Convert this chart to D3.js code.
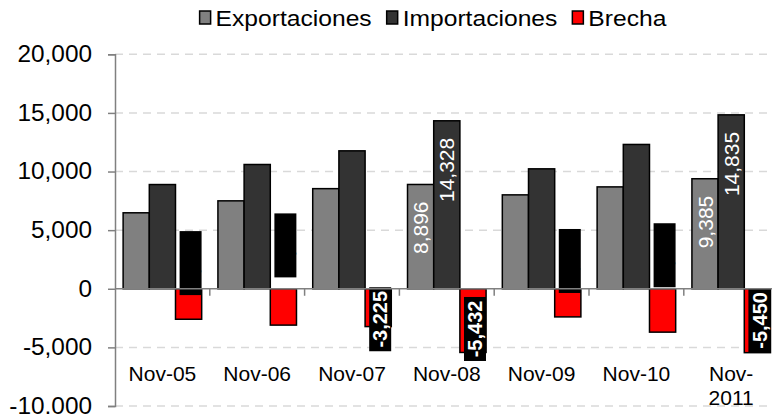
<!DOCTYPE html>
<html>
<head>
<meta charset="utf-8">
<script src="https://cdn.jsdelivr.net/npm/d3@7"></script>
<style>
  body { margin: 0; background: #fff; }
  svg { display: block; font-family: "Liberation Sans", Arial, sans-serif; }
</style>
</head>
<body>
<svg width="772" height="414"></svg>
<script>
// data
var categories = ["Nov-05", "Nov-06", "Nov-07", "Nov-08", "Nov-09", "Nov-10", "Nov-2011"];
var tickLabels = [["Nov-05"], ["Nov-06"], ["Nov-07"], ["Nov-08"], ["Nov-09"], ["Nov-10"], ["Nov-", "2011"]];
var series = ["Exportaciones", "Importaciones", "Brecha"];
var exportaciones = [6480, 7500, 8540, 8896, 8010, 8690, 9385];
var importaciones = [8890, 10600, 11765, 14328, 10230, 12310, 14835];
var brecha = [-2600, -3100, -3225, -5432, -2400, -3700, -5450];
// where each brecha label box sits (value units), and which labels are readable
var brechaLabelAt = [2190, 3700, -2600, -3430, 2370, 2860, -2700];
var brechaLabelShown = [false, false, true, true, false, false, true];
var valueLabelShown = [false, false, false, true, false, false, true];
var yTicks = [-10000, -5000, 0, 5000, 10000, 15000, 20000];

var colors = { Exportaciones: "#808080", Importaciones: "#333333", Brecha: "#ff0000" };

var svg = d3.select("svg");
var fmt = function(v) { return d3.format(",")(v).replace("\u2212", "-"); };

var y = d3.scaleLinear().domain([-10000, 20000]).range([406, 54.3]);
var x0 = d3.scaleBand().domain(categories).range([115, 778.6]);
var x1 = d3.scaleBand().domain(series).range([0, x0.bandwidth()]).paddingOuter(0.31);

// gridlines
svg.append("g")
    .selectAll("line")
    .data(yTicks.filter(function(d) { return d != 0; }))
    .enter().append("line")
    .attr("x1", 115).attr("x2", 772)
    .attr("y1", function(d) { return y(d); })
    .attr("y2", function(d) { return y(d); })
    .attr("stroke", "#d9d9d9")
    .attr("stroke-width", 1.5)
    .attr("stroke-dasharray", "8,6");

// y axis
var stretch = 1.06;
var yAxis = svg.append("g")
    .attr("transform", "translate(115,0)")
    .call(d3.axisLeft(y).tickValues(yTicks).tickSize(7).tickSizeOuter(7).tickFormat(fmt));
yAxis.select(".domain").attr("stroke", "#808080").attr("stroke-width", 1.5);
yAxis.selectAll(".tick line").attr("stroke", "#808080").attr("stroke-width", 1.5);
yAxis.selectAll("text")
    .attr("x", -23 / stretch)
    .attr("transform", "scale(" + stretch + ",1)")
    .attr("font-size", 23)
    .attr("font-family", "Liberation Sans, Arial, sans-serif")
    .attr("fill", "#000");

var rows = categories.map(function(c, i) {
    return { cat: c, i: i, values: [
        { key: "Exportaciones", value: exportaciones[i] },
        { key: "Importaciones", value: importaciones[i] },
        { key: "Brecha", value: brecha[i] }
    ] };
});

var groups = svg.append("g")
    .selectAll("g")
    .data(rows)
    .enter().append("g")
    .attr("transform", function(d) { return "translate(" + x0(d.cat) + ",0)"; });

groups.selectAll("rect")
    .data(function(d) { return d.values; })
    .enter().append("rect")
    .attr("x", function(d) { return x1(d.key); })
    .attr("width", x1.bandwidth())
    .attr("y", function(d) { return y(Math.max(0, d.value)); })
    .attr("height", function(d) { return Math.abs(y(d.value) - y(0)); })
    .attr("fill", function(d) { return colors[d.key]; })
    .attr("stroke", "#000")
    .attr("stroke-width", 1.5);

// zero line with category ticks
var xAxis = svg.append("g")
    .attr("transform", "translate(0," + y(0) + ")");
xAxis.append("line")
    .attr("x1", 115).attr("x2", 772)
    .attr("stroke", "#808080").attr("stroke-width", 1.5);
xAxis.selectAll(".ctick")
    .data(categories)
    .enter().append("line")
    .attr("class", "ctick")
    .attr("x1", function(d) { return x0(d) + x0.bandwidth(); })
    .attr("x2", function(d) { return x0(d) + x0.bandwidth(); })
    .attr("y1", 0).attr("y2", 7)
    .attr("stroke", "#808080").attr("stroke-width", 1.5);

// value labels on exports / imports
groups.filter(function(d) { return valueLabelShown[d.i]; })
    .selectAll(".vlabel")
    .data(function(d) { return d.values.slice(0, 2); })
    .enter().append("text")
    .attr("class", "vlabel")
    .attr("transform", function(d) {
        return "translate(" + (x1(d.key) + x1.bandwidth() / 2) + "," + (y(d.value) + 17) + ") rotate(-90)";
    })
    .attr("text-anchor", "end")
    .attr("dy", "0.36em")
    .attr("font-size", 21)
    .attr("fill", "#fff")
    .text(function(d) { return fmt(d.value); });

// brecha labels in black boxes
var bl = groups.append("g")
    .attr("transform", function(d) {
        return "translate(" + (x1("Brecha") + x1.bandwidth() / 2 + 2) + "," + y(brechaLabelAt[d.i]) + ")";
    });
bl.append("rect")
    .attr("x", -11).attr("y", -32)
    .attr("width", 22).attr("height", 64)
    .attr("fill", "#000");
bl.append("text")
    .attr("transform", "rotate(-90)")
    .attr("text-anchor", "middle")
    .attr("dy", "0.36em")
    .attr("font-size", 20)
    .attr("font-weight", "bold")
    .attr("fill", function(d) { return brechaLabelShown[d.i] ? "#fff" : "#000"; })
    .text(function(d) { return fmt(brecha[d.i]); });

// category labels
var cl = svg.append("g")
    .selectAll("text")
    .data(categories)
    .enter().append("text")
    .attr("x", function(d) { return x0(d) + x0.bandwidth() / 2; })
    .attr("y", 381)
    .attr("text-anchor", "middle")
    .attr("font-size", 21)
    .attr("fill", "#000");
cl.selectAll("tspan")
    .data(function(d, i) { return tickLabels[i]; })
    .enter().append("tspan")
    .attr("x", function() { return d3.select(this.parentNode).attr("x"); })
    .attr("dy", function(d, i) { return i == 0 ? 0 : 24; })
    .text(function(d) { return d; });

// legend
var lstretch = 1.12;
var legend = svg.append("g");
var lx = 0;
series.forEach(function(s) {
    var item = legend.append("g").attr("transform", "translate(" + lx + ",0)");
    item.append("rect")
        .attr("x", 0).attr("y", -15)
        .attr("width", 11).attr("height", 13)
        .attr("fill", colors[s])
        .attr("stroke", "#000").attr("stroke-width", 1.5);
    var t = item.append("text")
        .attr("x", 16 / lstretch)
        .attr("transform", "scale(" + lstretch + ",1)")
        .attr("font-size", 22)
        .attr("fill", "#000")
        .text(s);
    lx += 16 + t.node().getComputedTextLength() * lstretch + 15;
});
legend.attr("transform", "translate(" + (433 - (lx - 15) / 2) + ",26)");
</script>
</body>
</html>
